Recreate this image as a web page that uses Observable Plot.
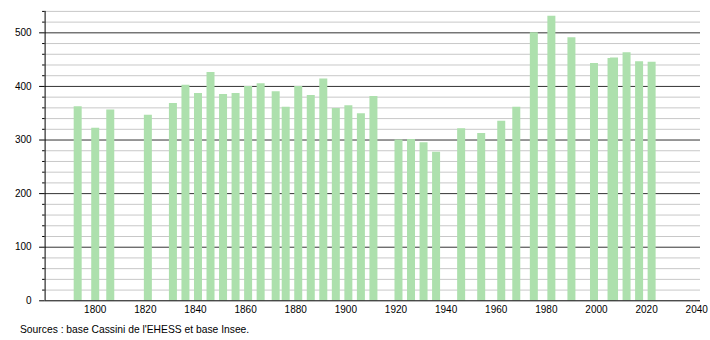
<!DOCTYPE html>
<html>
<head>
<meta charset="utf-8">
<script src="https://cdn.jsdelivr.net/npm/d3@7"></script>
<script src="https://cdn.jsdelivr.net/npm/@observablehq/plot@0.6"></script>
<style>
  html, body { margin: 0; padding: 0; background: #fff; }
  #chart svg { display: block; }
  #caption { font-family: "Liberation Sans", Arial, sans-serif; font-size: 10.3px; color: #000; margin-left: 20px; line-height: 12px; padding-top: 6px; }
</style>
</head>
<body>
<div id="chart"></div>
<div id="caption">Sources : base Cassini de l'EHESS et base Insee.</div>
<script>
const years = [1793,1800,1806,1821,1831,1836,1841,1846,1851,1856,1861,1866,1872,1876,1881,1886,1891,1896,1901,1906,1911,1921,1926,1931,1936,1946,1954,1962,1968,1975,1982,1990,1999,2006,2007,2012,2017,2022];
const population = [362,322,356,346,368,402,387,426,385,387,400,405,390,361,400,383,414,359,364,349,381,300,301,295,277,321,312,335,361,500,531,491,443,452,453,463,446,445];
const xTicks = [1800,1820,1840,1860,1880,1900,1920,1940,1960,1980,2000,2020,2040];
const yMajor = [0,100,200,300,400,500];
const yMinor = [20,40,60,80,120,140,160,180,220,240,260,280,320,340,360,380,420,440,460,480,520,540];

const data = years.map((year, i) => ({year, pop: population[i]}));
const xDomain = [1780, 2041.5];
const yDomain = [0, 540];
const font = "Liberation Sans, Arial, sans-serif";

const chart = Plot.plot({
  width: 710,
  height: 318,
  marginLeft: 44.6,
  marginRight: 10,
  marginTop: 10.9,
  marginBottom: 17.7,
  style: {fontFamily: font, fontSize: "10px", color: "#000", background: "#fff"},
  x: {domain: xDomain, axis: null},
  y: {domain: yDomain, axis: null},
  marks: [
    Plot.ruleY(yMinor, {stroke: "#c8c8c8", strokeWidth: 1, strokeOpacity: 1, x1: xDomain[0], x2: xDomain[1]}),
    Plot.ruleY(yMajor.filter(d => d > 0), {stroke: "#333", strokeWidth: 1, strokeOpacity: 1, x1: xDomain[0], x2: xDomain[1]}),
    Plot.ruleX(data, {x: "year", y1: 0, y2: "pop", stroke: "#ade0ad", strokeWidth: 8, strokeOpacity: 1}),
    Plot.ruleY([0], {stroke: "#000", strokeWidth: 1, x1: xDomain[0], x2: xDomain[1]}),
    Plot.ruleX([xDomain[0]], {stroke: "#000", strokeWidth: 1, y1: yDomain[0], y2: yDomain[1]}),
    Plot.axisY(yMajor, {anchor: "left", label: null, tickSize: 5.5, tickPadding: 8, tickFormat: d => String(d), fontSize: 10, stroke: "#000"}),
    Plot.axisY(yMinor, {anchor: "left", label: null, tickSize: 2.5, tickFormat: () => "", stroke: "#000"}),
    Plot.axisX(xTicks, {anchor: "bottom", label: null, tickSize: 0, tickPadding: 5, tickFormat: d => String(d), fontSize: 10})
  ]
});
document.getElementById("chart").appendChild(chart);
</script>
</body>
</html>
